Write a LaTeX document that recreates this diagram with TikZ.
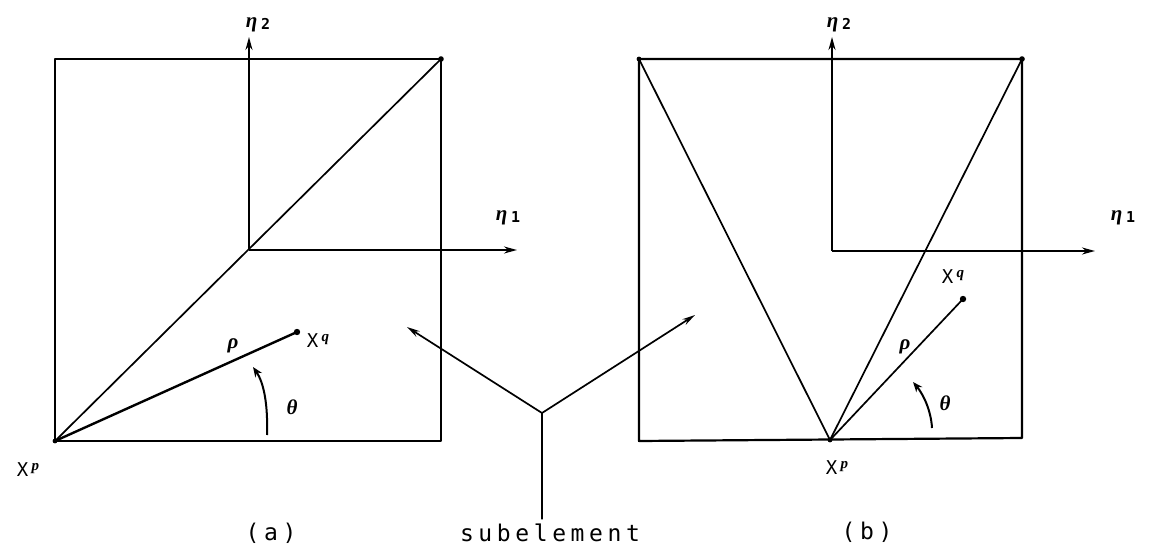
\documentclass[tikz,border=0pt]{standalone}
\usepackage{fontspec}
\usetikzlibrary{arrows.meta}
\newfontfamily\typew[LetterSpace=20]{DejaVu Sans Mono}
\newfontfamily\typex{DejaVu Sans Mono}
\newfontfamily\hand{Liberation Serif}
\newcommand{\gk}[1]{{\hand\bfseries\itshape #1}}
\newcommand{\etasub}[1]{\gk{η}\,\raisebox{-2pt}{{\typex\bfseries\fontsize{15}{18}\selectfont #1}}}
\newcommand{\xsup}[1]{X\,\raisebox{6pt}{\gk{\fontsize{15}{18}\selectfont #1}}}
\tikzset{
  boxline/.style={line width=2.2pt, line cap=round, line join=round},
  thinline/.style={line width=1.7pt, line cap=round},
  axisarrow/.style={line width=1.8pt, -{Stealth[length=13pt,width=7pt]}},
  ptr/.style={line width=1.7pt, -{Stealth[length=13pt,width=6.5pt]}},
  lab/.style={inner sep=0pt, font=\fontsize{21}{24}\selectfont},
  caption/.style={inner sep=0pt, font=\fontsize{23}{26}\selectfont\typew},
  xlab/.style={inner sep=0pt, font=\fontsize{19}{22}\selectfont\typex},
}
\begin{document}
\begin{tikzpicture}[x=1pt,y=-1pt]
\useasboundingbox (0,0) rectangle (1153,559);
% ---------- (a) ----------
\coordinate (aTL) at (55,59);
\coordinate (aTR) at (441,59);
\coordinate (aBR) at (441,441);
\coordinate (aBL) at (55,441);
\coordinate (aO) at (249,250);
\coordinate (aE1) at (517,250);
\coordinate (aE2) at (249,37);
\coordinate (aQ) at (297,332);
\coordinate (aTs) at (267,435);
\coordinate (aTe) at (253,367);
\draw[boxline] (aTL) -- (aTR) -- (aBR) -- (aBL) -- cycle;
\draw[thinline] (aBL) -- (aTR);
\draw[axisarrow] (aO) -- (aE1);
\draw[axisarrow] (aO) -- (aE2);
\draw[line width=2.4pt] (aBL) -- (aQ);
\fill (aQ) circle (3.2pt);
\fill (aTR) circle (2.8pt);
\fill (aBL) circle (2.4pt);
\draw[line width=2pt, -{Stealth[length=10pt,width=8pt]}] (aTs) .. controls (268,405) and (264,383) .. (aTe);
\node[lab] (aeta2) at (258,25) {\etasub{2}};
\node[lab] (aeta1) at (508,218) {\etasub{1}};
\node[xlab] (aXp) at (28,470) {\xsup{p}};
\node[xlab] (aXq) at (318,341) {\xsup{q}};
\node[lab] (arho) at (233,346) {\gk{ρ}};
\node[lab] (atheta) at (292,407) {\gk{θ}};
% ---------- (b) ----------
\coordinate (bTL) at (639,59);
\coordinate (bTR) at (1022,59);
\coordinate (bBR) at (1022,438);
\coordinate (bBL) at (639,441);
\coordinate (bP) at (830,440);
\coordinate (bO) at (832,251);
\coordinate (bE1) at (1095,251);
\coordinate (bE2) at (832,37);
\coordinate (bQ) at (963,299);
\coordinate (bTs) at (932,428);
\coordinate (bTe) at (913,382);
\draw[boxline] (bTL) -- (bTR) -- (bBR) -- (bBL) -- cycle;
\draw[thinline] (bTL) -- (bP) -- (bTR);
\draw[axisarrow] (bO) -- (bE1);
\draw[axisarrow] (bO) -- (bE2);
\draw[thinline] (bP) -- (bQ);
\fill (bQ) circle (3.2pt);
\fill (bTR) circle (2.8pt);
\fill (bTL) circle (2.4pt);
\fill (bP) circle (2.4pt);
\draw[line width=2pt, -{Stealth[length=10pt,width=8pt]}] (bTs) .. controls (931,410) and (923,394) .. (bTe);
\node[lab] (beta2) at (839,25) {\etasub{2}};
\node[lab] (beta1) at (1123,218) {\etasub{1}};
\node[xlab] (bXp) at (837,468) {\xsup{p}};
\node[xlab] (bXq) at (953,277) {\xsup{q}};
\node[lab] (brho) at (905,347) {\gk{ρ}};
\node[lab] (btheta) at (945,403) {\gk{θ}};
% ---------- captions ----------
\node[caption] (capa) at (271,533) {(a)};
\node[caption] (capb) at (867,532) {(b)};
\node[caption] (sub) at (550,533) {subelement};
\coordinate (J) at (542,413);
\coordinate (tipA) at (407,327);
\coordinate (tipB) at (695,315);
\draw[thinline] (sub.north -| J) ++(0,-5) -- (J);
\draw[ptr] (J) -- (tipA);
\draw[ptr] (J) -- (tipB);
\end{tikzpicture}
\end{document}
